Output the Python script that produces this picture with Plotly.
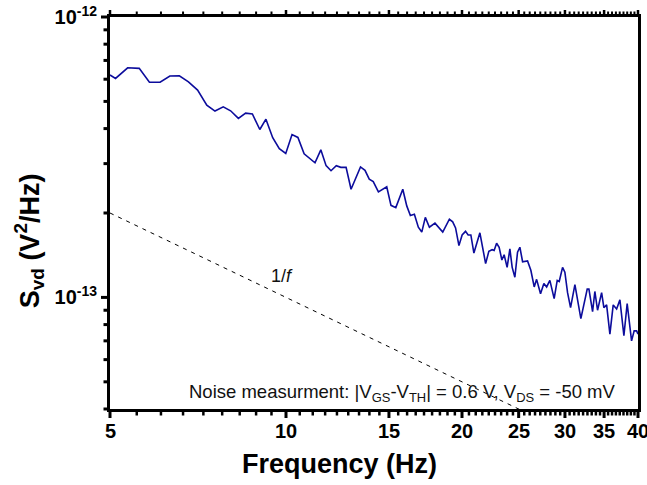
import math
import plotly.graph_objects as go

# Frequency (Hz)
freq = [5.0,5.11,5.36,5.61,5.84,6.09,6.33,6.57,6.81,7.06,7.32,7.56,7.81,8.04,8.29,8.53,8.76,9.02,9.24,9.49,
        9.74,9.99,10.24,10.48,10.74,11.21,11.47,11.71,11.94,12.19,12.41,12.67,12.92,13.41,13.65,13.88,14.1,14.39,14.87,15.12,
        15.41,15.84,16.09,16.32,16.58,16.84,17.07,17.31,17.59,17.98,18.54,19.03,19.28,19.5,
        19.76,20.01,20.28,20.49,20.71,20.96,21.46,21.95,22.23,22.52,22.70,22.92,23.15,23.40,23.61,23.89,
        24.15,24.37,24.63,24.89,25.12,25.39,25.89,26.23,26.58,26.83,27.25,27.61,27.91,28.27,28.75,29.10,
        29.33,29.72,29.99,30.31,30.67,31.20,31.94,32.75,32.97,33.45,33.75,34.11,34.66,34.97,35.35,35.81,
        36.28,36.77,37.25,37.84,38.33,39.00,39.40,39.78,40.0]
# Noise PSD, in units of 1e-13 V^2/Hz
svd_e13 = [6.21,6.04,6.59,6.56,5.85,5.85,6.16,6.17,5.87,5.49,
           4.85,4.62,4.78,4.63,4.35,4.54,4.51,3.97,4.32,3.71,
           3.39,3.26,3.81,3.72,3.25,3.02,3.36,2.95,2.83,2.95,
           2.91,2.91,2.43,2.92,2.84,2.64,2.59,2.38,2.48,2.13,
           2.09,2.43,2.12,1.96,1.98,1.78,1.71,1.93,1.78,1.84,
           1.71,1.9,1.86,1.77,1.53,1.67,1.72,1.67,1.67,1.44,
           1.7,1.32,1.46,1.48,1.47,1.56,1.51,1.36,1.42,1.28,
           1.49,1.28,1.18,1.45,1.51,1.34,1.35,1.25,1.09,1.16,
           1.03,1.12,1.09,1.15,0.99,1.15,1.14,1.28,1.23,1.04,
           0.92,1.11,0.84,1.07,1.07,0.89,1.05,0.9,1.04,0.92,
           0.94,0.74,0.94,0.91,0.98,0.73,0.95,0.7,0.76,0.76,
           0.74]
svd = [v * 1e-13 for v in svd_e13]

# 1/f guide line
guide_f = [5, 40]
guide_s = [2e-13, 2.5e-14]

x_ticks = [5, 10, 15, 20, 25, 30, 35, 40]
x_ticktext = ["5", "10", "15", "20", "25", "30", "35", "40"]
x_minor = [a + k * 5 / 9 for a in x_ticks[:-1] for k in range(1, 9)]
y_ticks = [1e-13, 1e-12]
y_ticktext = ["10<sup>-13</sup>", "10<sup>-12</sup>"]
y_minor = [m * 1e-14 for m in range(4, 10)] + [m * 1e-13 for m in range(2, 10)]

FONT = "Arial, Liberation Sans, sans-serif"
X_MIN, X_MAX = 5, 40
Y_MIN, Y_MAX = 4e-14, 1e-12
XR = [math.log10(X_MIN), math.log10(X_MAX)]
YR = [math.log10(Y_MIN), math.log10(Y_MAX)]

W, H = 647, 485
ML, MR, MT, MB = 110, 9, 17, 76
PW, PH = W - ML - MR, H - MT - MB
LW = 3  # frame line width


def xfrac(v):
    return (math.log10(v) - XR[0]) / (XR[1] - XR[0])


def yfrac(v):
    return (math.log10(v) - YR[0]) / (YR[1] - YR[0])


shapes = []
for vals, ln, top_ln, wd in [(x_ticks, 6, 4, 3), (x_minor, 3.5, 2.5, 2.5)]:
    for v in vals:
        xf = xfrac(v)
        shapes.append(dict(type="line", xref="paper", yref="paper", x0=xf, x1=xf,
                           y0=0, y1=-(LW + ln) / PH, line=dict(color="black", width=wd), layer="above"))
        shapes.append(dict(type="line", xref="paper", yref="paper", x0=xf, x1=xf,
                           y0=1, y1=1 + (LW + top_ln) / PH, line=dict(color="black", width=wd - 0.5), layer="above"))
for vals, ln, wd in [(y_ticks, 6, 3), (y_minor, 3.5, 3)]:
    for v in vals:
        yf = yfrac(v)
        shapes.append(dict(type="line", xref="paper", yref="paper", y0=yf, y1=yf,
                           x0=0, x1=-(LW + ln) / PW, line=dict(color="black", width=wd), layer="above"))

fig = go.Figure()
fig.add_trace(go.Scatter(x=guide_f, y=guide_s, mode="lines",
                         line=dict(color="black", width=1, dash="4px,5px"),
                         showlegend=False, hoverinfo="skip"))
fig.add_trace(go.Scatter(x=freq, y=svd, mode="lines",
                         line=dict(color="#0c0c9c", width=1.6),
                         showlegend=False))

fig.update_layout(
    width=W, height=H,
    margin=dict(l=ML, r=MR, t=MT, b=MB, autoexpand=False),
    paper_bgcolor="white", plot_bgcolor="white",
    font=dict(family=FONT, color="black"),
    showlegend=False,
    shapes=shapes,
    xaxis=dict(
        type="log", range=XR,
        tickmode="array", tickvals=x_ticks, showticklabels=False, ticks="",
        showline=True, linewidth=LW, linecolor="black", mirror=True,
        showgrid=False, zeroline=False,
    ),
    yaxis=dict(
        type="log", range=YR,
        tickmode="array", tickvals=y_ticks, ticktext=y_ticktext,
        ticks="outside", ticklen=6, tickwidth=2, tickcolor="rgba(0,0,0,0)",
        showline=True, linewidth=LW, linecolor="black", mirror=True,
        showgrid=False, zeroline=False,
        tickfont=dict(family=FONT, size=20, weight="bold", color="black"),
    ),
)

# x tick labels
for v, t in zip(x_ticks, x_ticktext):
    fig.add_annotation(x=math.log10(v), y=-22 / PH, xref="x", yref="paper",
                       xanchor="center", yanchor="middle", text="<b>%s</b>" % t, showarrow=False,
                       font=dict(family=FONT, size=20, color="black"))

fig.add_annotation(x=0.434, y=-0.14, xref="paper", yref="paper", xanchor="center", yanchor="middle",
                   text="<b>Frequency (Hz)</b>", showarrow=False,
                   font=dict(family=FONT, size=27, color="black"))
fig.add_annotation(x=-0.152, y=0.43, xref="paper", yref="paper", xanchor="center", yanchor="middle",
                   text="<b>S<sub>vd</sub> (V<sup>2</sup>/Hz)</b>", showarrow=False, textangle=-90,
                   font=dict(family=FONT, size=27, color="black"))
fig.add_annotation(x=math.log10(9.85), y=math.log10(1.19e-13), xref="x", yref="y",
                   text="1/<i>f</i>", showarrow=False,
                   font=dict(family=FONT, size=18, color="#111111"))
fig.add_annotation(x=0.963, y=0.041, xref="paper", yref="paper", xanchor="right", yanchor="middle",
                   text="Noise measurment: |V<sub>GS</sub>-V<sub>TH</sub>| = 0.6 V, V<sub>DS</sub> = -50 mV",
                   showarrow=False, font=dict(family=FONT, size=18.5, color="#111111"))

fig.write_html("out.html")
